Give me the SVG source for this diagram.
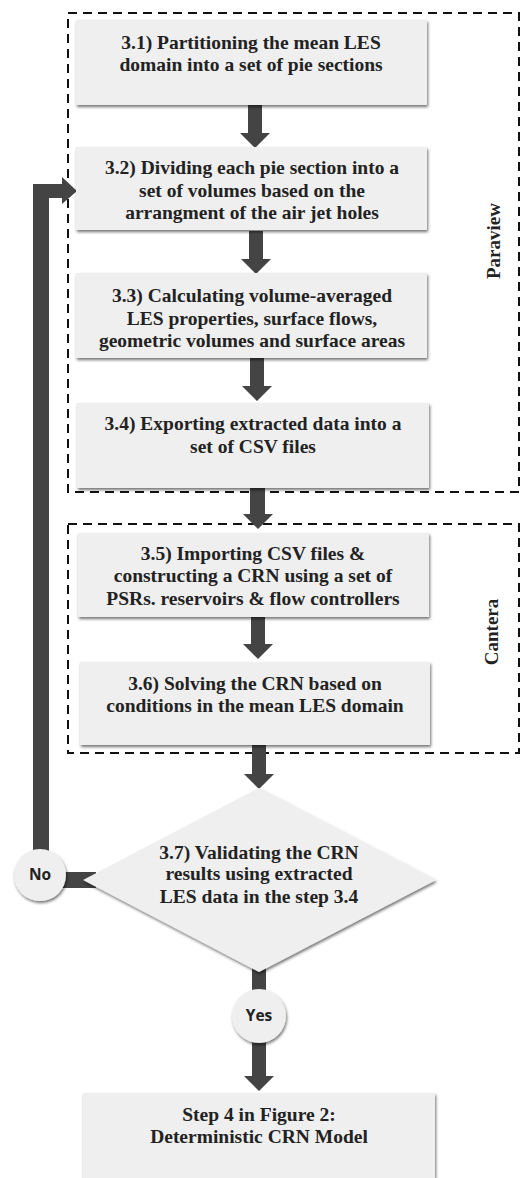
<svg xmlns="http://www.w3.org/2000/svg" width="520" height="1178" viewBox="0 0 520 1178">
  <defs>
    <filter id="shadow" x="-10%" y="-10%" width="120%" height="130%">
      <feDropShadow dx="1" dy="2" stdDeviation="1.8" flood-color="#000" flood-opacity="0.55"/>
    </filter>
    <style>
      .box { fill: #efefef; filter: url(#shadow); }
      .step { font-family: "Liberation Serif", "DejaVu Serif", serif; font-weight: bold; font-size: 19.5px; fill: #222; text-anchor: middle; }
      .tag { font-family: "Open Sans", "Liberation Sans", sans-serif; font-weight: bold; font-size: 15.5px; fill: #222; text-anchor: middle; }
      .group { fill: none; stroke: #111; stroke-width: 2; stroke-dasharray: 9 6; }
      .grouplabel { font-family: "Liberation Serif", "DejaVu Serif", serif; font-weight: bold; font-size: 19px; fill: #222; text-anchor: middle; }
      .flow { fill: #444; }
    </style>
  </defs>
  <rect width="520" height="1178" fill="#fff"/>

  <!-- tool groupings -->
  <g id="paraview-group">
    <rect class="group" x="68" y="13" width="451" height="479"/>
    <text class="grouplabel" transform="translate(500 241) rotate(-90)">Paraview</text>
  </g>
  <g id="cantera-group">
    <rect class="group" x="68" y="524" width="451" height="229"/>
    <text class="grouplabel" transform="translate(498 632) rotate(-90)">Cantera</text>
  </g>

  <!-- connectors -->
  <g id="connectors" class="flow">
    <polygon points="248,105 262,105 262,133 270,133 255,148 240,133 248,133"/>
    <polygon points="249,231 263,231 263,259 271,259 256,274 241,259 249,259"/>
    <polygon points="250,358 264,358 264,386 272,386 257,401 242,386 250,386"/>
    <polygon points="250,488 265,488 265,514 273,514 258,529 243,514 250,514"/>
    <polygon points="251,617 265,617 265,644 273,644 258,659 243,644 251,644"/>
    <polygon points="252,745 266,745 266,774 274,774 259,789 244,774 252,774"/>
    <!-- validation passes -->
    <rect x="252" y="965" width="14" height="26"/>
    <polygon points="252,1040 266,1040 266,1076 274,1076 259,1091 244,1076 252,1076"/>
    <!-- validation fails: loop back to 3.2 -->
    <rect x="60" y="872" width="36" height="16"/>
    <polygon points="33,852 33,184 62,184 62,177 77,191 62,204 62,198 49,198 49,852"/>
  </g>

  <!-- process steps -->
  <g id="step-3-1">
    <rect class="box" x="76" y="20" width="351" height="85"/>
    <text class="step" x="251" y="49">3.1) Partitioning the mean LES</text>
    <text class="step" x="251" y="71">domain into a set of pie sections</text>
  </g>
  <g id="step-3-2">
    <rect class="box" x="76" y="147" width="351" height="83"/>
    <text class="step" x="252" y="174">3.2) Dividing each pie section into a</text>
    <text class="step" x="252" y="197">set of volumes based on the</text>
    <text class="step" x="252" y="219">arrangment of the  air jet holes</text>
  </g>
  <g id="step-3-3">
    <rect class="box" x="76" y="273" width="351" height="85"/>
    <text class="step" x="252" y="302">3.3) Calculating volume-averaged</text>
    <text class="step" x="252" y="325">LES properties, surface flows,</text>
    <text class="step" x="252" y="347">geometric volumes and surface areas</text>
  </g>
  <g id="step-3-4">
    <rect class="box" x="77" y="403" width="352" height="85"/>
    <text class="step" x="253" y="430">3.4) Exporting extracted data into a</text>
    <text class="step" x="253" y="453">set of CSV files</text>
  </g>
  <g id="step-3-5">
    <rect class="box" x="78" y="533" width="351" height="84"/>
    <text class="step" x="253" y="560">3.5) Importing CSV files &amp;</text>
    <text class="step" x="253" y="582">constructing a CRN using a set of</text>
    <text class="step" x="253" y="605">PSRs. reservoirs &amp; flow controllers</text>
  </g>
  <g id="step-3-6">
    <rect class="box" x="80" y="662" width="350" height="83"/>
    <text class="step" x="255" y="690">3.6) Solving the CRN  based on</text>
    <text class="step" x="255" y="712">conditions in the mean LES  domain</text>
  </g>
  <g id="step-3-7">
    <polygon class="box" points="259,788 436,880 259,972 83,880"/>
    <text class="step" x="259" y="859">3.7) Validating the CRN</text>
    <text class="step" x="259" y="880">results using extracted</text>
    <text class="step" x="259" y="903">LES data in the step 3.4</text>
  </g>
  <g id="no">
    <circle class="box" cx="40" cy="875" r="26"/>
    <text class="tag" x="40" y="880">No</text>
  </g>
  <g id="yes">
    <circle class="box" cx="259" cy="1016" r="27"/>
    <text class="tag" x="259" y="1021">Yes</text>
  </g>
  <g id="step-4">
    <rect class="box" x="83" y="1093" width="352" height="85"/>
    <text class="step" x="259" y="1121">Step 4 in Figure 2:</text>
    <text class="step" x="259" y="1143">Deterministic CRN Model</text>
  </g>
</svg>
